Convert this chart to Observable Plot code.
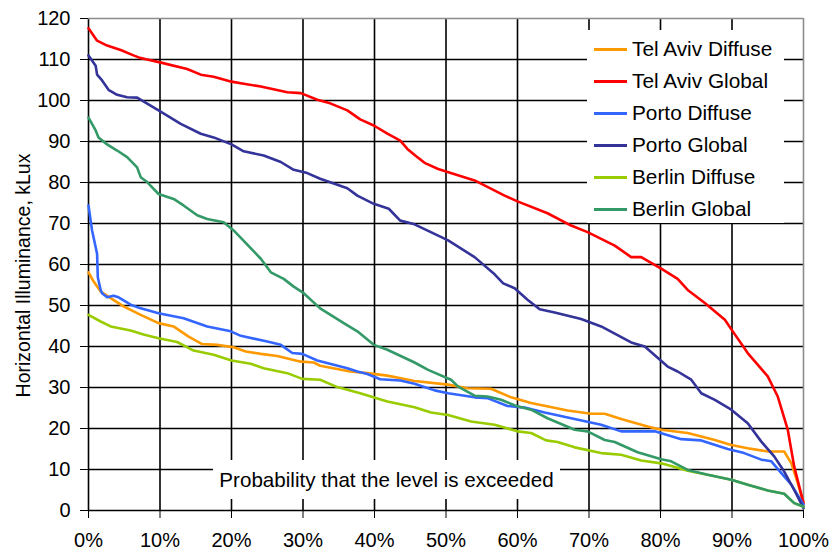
<!DOCTYPE html>
<html>
<head>
<meta charset="utf-8">
<script src="https://cdn.jsdelivr.net/npm/d3@7"></script>
<script src="https://cdn.jsdelivr.net/npm/@observablehq/plot@0.6"></script>
<style>
  body { margin: 0; background: #fff; font-family: Arial, "Liberation Sans", sans-serif; }
  #wrap { position: relative; width: 834px; height: 556px; }
  #legend { position: absolute; left: 587px; top: 30px; width: 197px; height: 193px; background: #fff; padding-top: 3px; box-sizing: border-box; }
  .row { display: flex; align-items: center; height: 32px; }
  .sw { width: 33px; height: 3px; margin-left: 7px; margin-right: 5px; }
  .lt { font-size: 20.8px; color: #000; white-space: nowrap; }
  #xtitle { position: absolute; left: 213px; top: 460px; width: 347px; height: 39px; line-height: 39px; background: #fff; text-align: center; font-size: 20.6px; color: #000; white-space: nowrap; }
</style>
</head>
<body>
<div id="wrap"></div>
<script>
// Exceedance curves of horizontal illuminance (kLux) versus probability (%)
const seriesNames = ["Tel Aviv Diffuse", "Tel Aviv Global", "Porto Diffuse", "Porto Global", "Berlin Diffuse", "Berlin Global"];
const seriesColors = ["#ff9900", "#ff0000", "#3366ff", "#333399", "#99cc00", "#339966"];

const telAvivDiffuse = [[0,58.1],[0.7,55.9],[1.7,53.4],[3.1,51.8],[4.9,49.8],[7.3,47.7],[9.8,45.7],[11.9,44.9],[14,42.4],[15.9,40.6],[18,40.4],[20.3,39.8],[22,38.8],[24.1,38.2],[26.4,37.7],[29.7,36.3],[31.5,36.1],[32.4,35.3],[36.6,33.9],[39,33.5],[41.8,32.9],[45.6,31.6],[50.3,30.7],[53,29.8],[56.3,29.7],[59.1,27.6],[61.9,26.2],[67,24.4],[70.3,23.6],[72.2,23.6],[74.5,22.3],[78.2,20.5],[80.1,19.7],[83.8,18.9],[87.6,17.2],[89.9,16],[92.2,15.2],[95,14.4],[97.3,14.4],[98.3,11.5],[99.2,6.7],[100,1.8]];
const telAvivGlobal = [[0,117.6],[1.2,114.6],[2.6,113.4],[4.5,112.3],[6.3,111],[7.2,110.4],[8.2,110],[10,109.3],[13.8,107.7],[15.7,106.3],[17.5,105.8],[20,104.6],[21.7,104.1],[24.1,103.4],[27.8,102],[29.7,101.8],[32,100.2],[33.8,99.3],[36.2,97.6],[38,95.4],[39.9,93.9],[41.8,91.9],[43.6,90.2],[44.6,88.2],[45.7,86.6],[47,84.8],[48.9,83.3],[54,80.5],[58.2,76.8],[60,75.4],[64.2,72.5],[67.5,69.5],[69.8,67.9],[73.6,64.6],[75.9,61.8],[77.3,61.8],[80.1,59],[82.4,56.5],[83.8,53.8],[86.2,50.6],[89,46.5],[90.3,43.2],[92.2,38.4],[95,32.7],[96.4,27.8],[97.8,19.7],[98.7,10.7],[100,1.8]];
const portoDiffuse = [[0,74.4],[0.5,68.3],[1.2,62.6],[1.3,56.9],[1.7,53.8],[1.9,53],[2.6,52],[3.5,52.4],[4.2,52],[5.9,50.2],[7.3,49.3],[9.8,48.1],[13.3,46.9],[16.6,44.9],[19.9,43.7],[21.3,42.6],[25,41.2],[26.9,40.4],[28.5,38.4],[29.9,38.2],[32,36.6],[36.2,34.7],[37.6,33.9],[39,33.3],[40.8,32],[43.6,31.7],[45.6,30.9],[48.4,29.3],[50.3,28.6],[54,27.6],[55.8,27.4],[58.6,25.5],[61,25.1],[63.8,23.9],[67.5,22.5],[71.7,20.9],[74.5,19.3],[79.2,19.3],[82.9,17.4],[85.7,17.1],[89.4,15],[91.7,14],[94.1,12.4],[95.5,12],[96.9,9.1],[98.3,6.3],[100,1.4]];
const portoGlobal = [[0,111],[1,108.5],[1.2,106.3],[1.9,104.9],[2.8,102.6],[4,101.4],[5.4,100.8],[6.8,100.7],[9.8,97.6],[12.9,94.3],[15.7,91.9],[17.5,91],[20,89.3],[21.7,87.6],[24.5,86.6],[26.9,85],[28.7,83.1],[30.6,82.3],[32.4,80.9],[36.2,78.6],[37.6,76.8],[39.9,74.8],[42,73.6],[43.6,70.7],[45.6,69.8],[50.3,65.9],[54,61.8],[56.8,57.6],[58,55.4],[59.6,54.2],[61.4,51.4],[63.1,49.1],[65.2,48.3],[68.9,46.7],[71.7,44.9],[75.9,41],[77.8,40],[81,35.1],[82.4,33.9],[84.3,31.9],[85.7,28.6],[87.6,27],[89.9,24.6],[92.2,21.3],[94.1,16.8],[95.9,13.2],[97.3,9.5],[98.7,5],[100,0.6]];
const berlinDiffuse = [[0,47.7],[1.7,46.1],[3.1,44.9],[5.9,43.9],[7.7,42.9],[9.8,42],[12.4,41.1],[14.7,39],[17.5,38],[20,36.6],[22.7,35.8],[24.5,34.7],[27.8,33.5],[29.9,32.1],[32.4,31.9],[34.8,30.1],[38,28.6],[41.8,26.6],[45.6,25.2],[47.9,23.9],[50.3,23.3],[53.5,21.7],[56.8,20.9],[60,19.3],[61.9,18.9],[64,17.1],[65.6,16.7],[68,15.4],[71.7,14],[74.5,13.6],[77.3,12.2],[80.1,11.5],[82,10.6],[83.8,9.7],[86.6,8.7],[89.9,7.5],[92.2,6.3],[95,4.9],[97.3,4.1],[98.7,1.8],[100,0.9]];
const berlinGlobal = [[0,95.8],[1,92.7],[1.4,91],[2.6,89.3],[4,87.8],[5.4,86.2],[6.8,83.7],[7.3,81.3],[8.2,80.1],[9.8,77.2],[11.9,76],[13.3,74.4],[15.2,72],[16.6,71.1],[18.9,70.3],[20.3,68.3],[24.1,61.4],[25.5,58.1],[27.3,56.5],[28.7,54.6],[30.1,53],[32.4,49.3],[35.7,45.7],[37.6,43.7],[39.9,40.4],[41.8,39.2],[45.6,36.1],[47.5,34.3],[50.7,31.9],[51.7,30.2],[54,28],[55.8,27.8],[57.7,27],[60,25.4],[61.9,24.6],[64.2,22.5],[68,19.7],[69.8,19.3],[72.2,17.2],[73.6,16.7],[76.8,14.2],[80.1,12.5],[81.5,12],[83.8,9.9],[86.6,8.7],[89.9,7.5],[92.2,6.3],[95,4.9],[97.3,4.1],[98.7,1.8],[100,1]];

const seriesValues = [telAvivDiffuse, telAvivGlobal, portoDiffuse, portoGlobal, berlinDiffuse, berlinGlobal];

const xTicks = [0, 10, 20, 30, 40, 50, 60, 70, 80, 90, 100];
const yTicks = [0, 10, 20, 30, 40, 50, 60, 70, 80, 90, 100, 110, 120];
const yTitle = "Horizontal Illuminance, kLux";
const xTitle = "Probability that the level is exceeded";

const rows = seriesNames.flatMap((name, i) =>
  seriesValues[i].map(([p, v]) => ({series: name, p, v}))
);

const font = 'Arial, "Liberation Sans", sans-serif';

const chart = Plot.plot({
  width: 834,
  height: 556,
  marginLeft: 88,
  marginRight: 31,
  marginTop: 18,
  marginBottom: 46,
  style: {fontFamily: font, fontSize: "20px", color: "#000", background: "#fff", overflow: "visible"},
  x: {domain: [0, 100], ticks: xTicks, tickFormat: d => d + "%", tickSize: 8, tickPadding: 14, label: null},
  y: {domain: [0, 120], ticks: yTicks, tickSize: 8, tickPadding: 10, label: null},
  color: {domain: seriesNames, range: seriesColors},
  marks: [
    Plot.ruleY(yTicks.slice(0, -1), {stroke: "#000", strokeWidth: 1.6}),
    Plot.ruleX(xTicks.slice(0, -1), {stroke: "#000", strokeWidth: 1.6}),
    Plot.ruleY(yTicks.slice(-1), {stroke: "#8c8c8c", strokeWidth: 1.6}),
    Plot.ruleX(xTicks.slice(-1), {stroke: "#8c8c8c", strokeWidth: 1.6}),
    ...seriesNames.map(name =>
      Plot.line(rows.filter(r => r.series === name), {x: "p", y: "v", stroke: "series", strokeWidth: 2.6, strokeLinejoin: "round"})
    ),
    Plot.text([yTitle], {text: d => d, frameAnchor: "left", rotate: -90, dx: -59, dy: 11, fontSize: 19.5, textAnchor: "middle", lineAnchor: "bottom", fill: "#000"})
  ]
});

const wrap = document.getElementById("wrap");
wrap.appendChild(chart);

// Legend box drawn inside the plot area
const legend = document.createElement("div");
legend.id = "legend";
seriesNames.forEach((name, i) => {
  const row = document.createElement("div");
  row.className = "row";
  const sw = document.createElement("div");
  sw.className = "sw";
  sw.style.background = seriesColors[i];
  const lt = document.createElement("span");
  lt.className = "lt";
  lt.textContent = name;
  row.appendChild(sw);
  row.appendChild(lt);
  legend.appendChild(row);
});
wrap.appendChild(legend);

// X title sits in a white box over the lower grid
const xt = document.createElement("div");
xt.id = "xtitle";
xt.textContent = xTitle;
wrap.appendChild(xt);
</script>
</body>
</html>
